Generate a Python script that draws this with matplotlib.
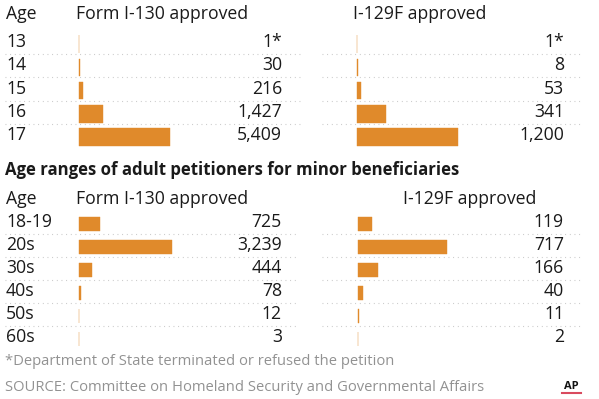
import matplotlib
matplotlib.use("Agg")
import matplotlib.pyplot as plt
from matplotlib.lines import Line2D

plt.rcParams['font.family'] = ['Open Sans', 'DejaVu Sans']

# ---- data ----
minor_ages = ["13", "14", "15", "16", "17"]
minor_i130 = [1, 30, 216, 1427, 5409]
minor_i130_labels = ["1*", "30", "216", "1,427", "5,409"]
minor_i129f = [1, 8, 53, 341, 1200]
minor_i129f_labels = ["1*", "8", "53", "341", "1,200"]

adult_ages = ["18-19", "20s", "30s", "40s", "50s", "60s"]
adult_i130 = [725, 3239, 444, 78, 12, 3]
adult_i130_labels = ["725", "3,239", "444", "78", "12", "3"]
adult_i129f = [119, 717, 166, 40, 11, 2]
adult_i129f_labels = ["119", "717", "166", "40", "11", "2"]

col_age = "Age"
col_i130 = "Form I-130 approved"
col_i129f = "I-129F approved"
section_title = "Age ranges of adult petitioners for minor beneficiaries"
footnote = "*Department of State terminated or refused the petition"
source = "SOURCE: Committee on Homeland Security and Governmental Affairs"

# ---- style ----
W, H = 599, 399
fig = plt.figure(figsize=(W / 100, H / 100), dpi=100)
BAR = "#e08a2b"
TXT = "#1a1a1a"
GRAY = "#929292"
DOT = "#c4c4c4"
FS = 12.7


def ftext(xp, yp, s, **kw):
    kw.setdefault("color", TXT)
    kw.setdefault("fontsize", FS)
    kw.setdefault("va", "baseline")
    fig.text(xp / W, 1 - yp / H, s, **kw)


def panel(values, labels, row_labels, x0, x1, bar0, barpx, valx, base0, step, bh, dgap):
    n = len(values)
    c0 = base0 - 3
    top = base0 - 22
    bottom = base0 + step * (n - 1) + 10
    ax = fig.add_axes([x0 / W, 1 - bottom / H, (x1 - x0) / W, (bottom - top) / H])
    k = max(values) / barpx
    ax.set_xlim((x0 - bar0) * k, (x1 - bar0) * k)
    ax.set_ylim((bottom - c0) / step, (top - c0) / step)
    ax.axis("off")
    ax.barh(range(n), values, height=bh / step, color=BAR,
            edgecolor=BAR, linewidth=0.3)
    for i in range(1, n):
        y = i - dgap / step
        ax.plot([(x0 - bar0) * k, (x1 - bar0) * k], [y, y], color=DOT,
                lw=0.8, dashes=(0.8, 3.4), solid_capstyle="butt")
    for i, lab in enumerate(labels):
        ax.text((valx - bar0) * k, i + 3 / step, lab, ha="right", va="baseline",
                fontsize=FS, color=TXT)
    if row_labels is not None:
        for i, lab in enumerate(row_labels):
            ax.text((6 - bar0) * k, i + 3 / step, lab, ha="left", va="baseline",
                    fontsize=FS, color=TXT, clip_on=False)
    return ax


# ---- top section (minor petitioners) ----
ftext(6, 19, col_age)
ftext(76, 19, col_i130)
ftext(353, 19, col_i129f)
panel(minor_i130, minor_i130_labels, minor_ages, 5, 302, 79, 91, 282,
      47, 23.25, 17.5, 13.25)
panel(minor_i129f, minor_i129f_labels, None, 322, 583, 357, 101, 564,
      47, 23.25, 17.5, 13.25)

# ---- bottom section (adult petitioners) ----
ftext(5, 175, section_title, fontweight="bold", fontsize=12.1)
ftext(6, 204, col_age)
ftext(76, 204, col_i130)
ftext(403, 204, col_i129f)
panel(adult_i130, adult_i130_labels, adult_ages, 5, 298, 79, 93, 282,
      227, 23, 14.5, 13)
panel(adult_i129f, adult_i129f_labels, None, 322, 583, 357.5, 90, 564,
      227, 23, 14.5, 13)

# ---- footer ----
ftext(5, 365, footnote, color=GRAY, fontsize=10.6)
ftext(5, 391, source, color=GRAY, fontsize=10.6)
ftext(571.5, 389, "AP", ha="center", fontweight="bold", fontsize=8, color="#111111")
fig.add_artist(Line2D([562 / W, 581 / W], [1 - 393 / H, 1 - 393 / H],
                      color="#d94a5e", lw=1.5))

fig.savefig("out.png", dpi=100, facecolor="white")
